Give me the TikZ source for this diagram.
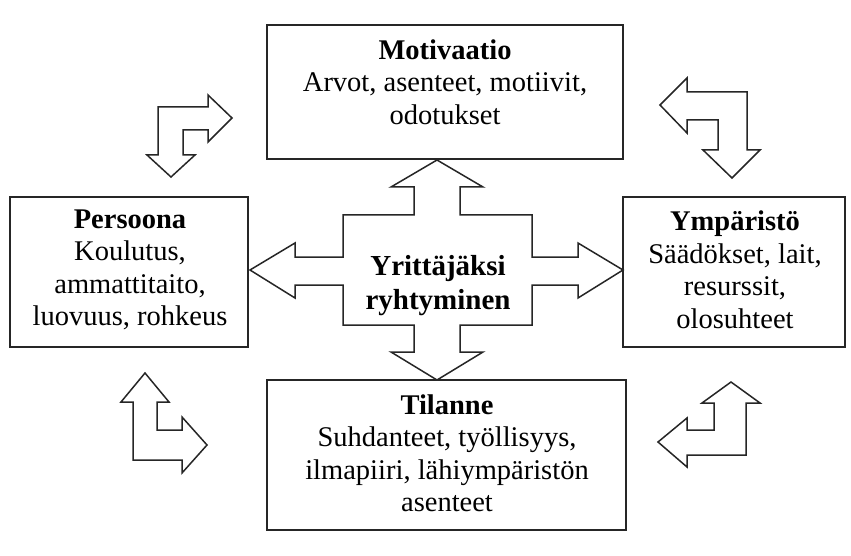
\documentclass[tikz,border=0pt]{standalone}
\usepackage{fontspec}
\setmainfont{Liberation Serif}
\begin{document}
\begin{tikzpicture}[x=1pt,y=-1pt,
  box/.style={draw=black!85,line width=1.7pt,fill=white},
  blockarrow/.style={draw=black!85,line width=1.5pt,line join=miter,fill=white},
  txt/.style={align=center,inner sep=0pt,font=\fontsize{28.5}{32.5}\selectfont}]
\useasboundingbox (0,0) rectangle (851,556);
% boxes
\draw[box] (267,25) rectangle (623,159);
\draw[box] (10,197) rectangle (248,347);
\draw[box] (623,197) rectangle (845,347);
\draw[box] (267,380) rectangle (626,530);
% central cross arrow
\draw[blockarrow] (437,160) -- (483,187) -- (460,187) -- (460,215) -- (532,215) -- (532,257)
  -- (578,257) -- (578,243) -- (623,270) -- (578,298) -- (578,285) -- (532,285) -- (532,325)
  -- (460,325) -- (460,352) -- (483,352) -- (437,380) -- (391,352) -- (414,352) -- (414,325)
  -- (343,325) -- (343,285) -- (295,285) -- (295,298) -- (250,270) -- (295,243) -- (295,257)
  -- (343,257) -- (343,215) -- (414,215) -- (414,187) -- (391,187) -- cycle;
% corner arrows
\draw[blockarrow] (158,107) -- (208,107) -- (208,95) -- (232,118) -- (208,142) -- (208,130)
  -- (183,130) -- (183,155) -- (195,155) -- (171,177) -- (147,155) -- (158,155) -- cycle;
\draw[blockarrow] (660,105) -- (687,78) -- (687,92) -- (747,92) -- (747,150) -- (760,150)
  -- (732,178) -- (703,150) -- (718,150) -- (718,120) -- (687,120) -- (687,133) -- cycle;
\draw[blockarrow] (145,373) -- (169,402) -- (157,402) -- (157,430) -- (182,430) -- (182,417)
  -- (207,445) -- (182,473) -- (182,460) -- (133,460) -- (133,402) -- (121,402) -- cycle;
\draw[blockarrow] (731,382) -- (760,403) -- (746,403) -- (746,455) -- (687,455) -- (687,467)
  -- (658,442) -- (687,418) -- (687,430) -- (714,430) -- (714,403) -- (702,403) -- cycle;
% texts
\node[txt] (mot) at (445,82) {\textbf{Motivaatio}\\Arvot, asenteet, motiivit,\\odotukset};
\node[txt] (per) at (130,270) {\textbf{Persoona}\\Koulutus,\\ammattitaito,\\luovuus, rohkeus};
\node[txt] (ymp) at (735,270) {\textbf{Ympäristö}\\Säädökset, lait,\\resurssit,\\olosuhteet};
\node[txt] (til) at (447,453) {\textbf{Tilanne}\\Suhdanteet, työllisyys,\\ilmapiiri, lähiympäristön\\asenteet};
\node[txt,font=\fontsize{29}{34}\selectfont\bfseries] (yr) at (438,286) {Yrittäjäksi\\ryhtyminen};
\end{tikzpicture}
\end{document}
